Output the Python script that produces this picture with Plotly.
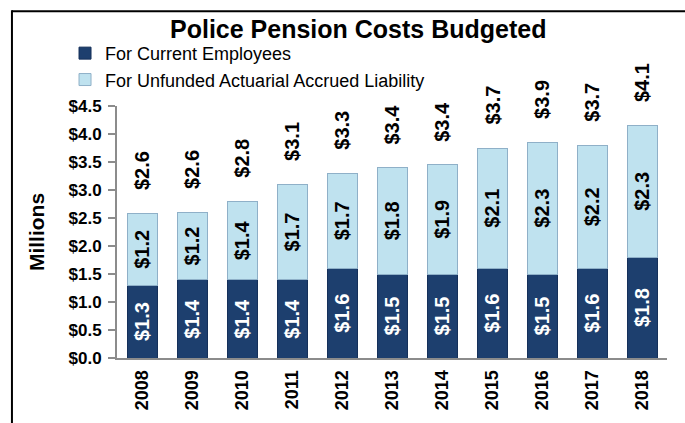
import plotly.graph_objects as go

years = ["2008", "2009", "2010", "2011", "2012", "2013", "2014", "2015", "2016", "2017", "2018"]
current_employees = [1.3, 1.4, 1.4, 1.4, 1.6, 1.5, 1.5, 1.6, 1.5, 1.6, 1.8]
unfunded_liability = [1.28, 1.2, 1.4, 1.7, 1.7, 1.9, 1.95, 2.15, 2.35, 2.2, 2.35]
unfunded_labels = [1.2, 1.2, 1.4, 1.7, 1.7, 1.8, 1.9, 2.1, 2.3, 2.2, 2.3]
total_labels = [2.6, 2.6, 2.8, 3.1, 3.3, 3.4, 3.4, 3.7, 3.9, 3.7, 4.1]

FONT = "Liberation Sans, Arial, sans-serif"
DARK = "#1d3f6e"
LIGHT = "#bfe2ef"

fig = go.Figure()
fig.add_trace(go.Bar(
    x=years, y=current_employees, name="For Current Employees",
    marker=dict(color=DARK, line=dict(color="#15305a", width=1)),
    text=[f"${v:.1f}" for v in current_employees],
    texttemplate="%{text}",
    textposition="inside", insidetextanchor="middle", textangle=-90,
    textfont=dict(family=FONT, size=20, color="white", weight="bold"),
    constraintext="none",
))
fig.add_trace(go.Bar(
    x=years, y=unfunded_liability, name="For Unfunded Actuarial Accrued Liability",
    marker=dict(color=LIGHT, line=dict(color="#8fb0c8", width=1)),
    text=[f"${v:.1f}" for v in unfunded_labels],
    texttemplate="%{text}",
    textposition="inside", insidetextanchor="middle", textangle=-90,
    textfont=dict(family=FONT, size=20, color="black", weight="bold"),
    constraintext="none",
))

totals = [a + b for a, b in zip(current_employees, unfunded_liability)]
for i, (tot, lab) in enumerate(zip(totals, total_labels)):
    fig.add_annotation(
        x=i, y=tot, text=f"${lab:.1f}", showarrow=False, textangle=-90,
        yanchor="bottom", xanchor="center", yshift=21,
        font=dict(family=FONT, size=20, color="black", weight="bold"),
    )

fig.update_layout(
    width=685, height=423,
    margin=dict(l=117, r=18, t=106, b=65),
    paper_bgcolor="white", plot_bgcolor="white",
    barmode="stack", bargap=0.4,
    showlegend=True,
    title=dict(text="Police Pension Costs Budgeted", xref="container", x=0.523, xanchor="center",
               yref="container", y=0.931, yanchor="middle",
               font=dict(family=FONT, size=25, color="black", weight="bold")),
    legend=dict(x=-0.0945, y=1.282, xanchor="left", yanchor="top", traceorder="normal",
                font=dict(family=FONT, size=18, color="black"), itemwidth=30,
                bgcolor="rgba(0,0,0,0)", tracegroupgap=0),
    xaxis=dict(type="category", tickangle=-90, showline=True, linecolor="#8c8c8c", linewidth=2,
               ticks="", ticklabelstandoff=3,
               tickfont=dict(family=FONT, size=18, color="black", weight="bold"),
               showgrid=False),
    yaxis=dict(range=[0, 4.5], dtick=0.5, tickprefix="$", tickformat=".1f",
               showline=True, linecolor="#8c8c8c", linewidth=2,
               ticks="outside", ticklen=7, tickcolor="#8c8c8c", tickwidth=2,
               ticklabelstandoff=3,
               tickfont=dict(family=FONT, size=17, color="black", weight="bold"),
               showgrid=False, zeroline=False,
               title=dict(text="Millions", standoff=18,
                          font=dict(family=FONT, size=21, color="black", weight="bold"))),
    shapes=[
        dict(type="line", xref="paper", yref="paper", x0=-0.191, x1=1.2, y0=1.376, y1=1.376,
             line=dict(color="black", width=2), layer="above"),
        dict(type="line", xref="paper", yref="paper", x0=-0.191, x1=-0.191, y0=-0.4, y1=1.38,
             line=dict(color="black", width=2), layer="above"),
    ],
)

fig.write_html("out.html", config={"displayModeBar": False},
               post_script="document.body.style.margin='0';")
